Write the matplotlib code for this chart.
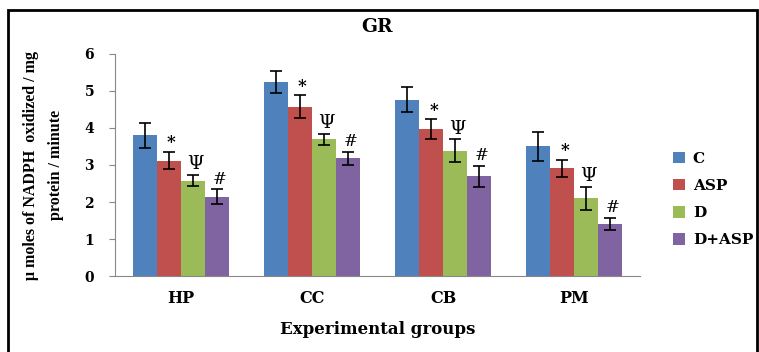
import matplotlib.pyplot as plt
import numpy as np
from matplotlib.patches import Rectangle

groups = ["HP", "CC", "CB", "PM"]
series = ["C", "ASP", "D", "D+ASP"]
values = {
    "C": [3.80, 5.25, 4.76, 3.50],
    "ASP": [3.12, 4.58, 3.96, 2.91],
    "D": [2.58, 3.69, 3.39, 2.10],
    "D+ASP": [2.14, 3.18, 2.69, 1.40],
}
errors = {
    "C": [0.33, 0.30, 0.34, 0.38],
    "ASP": [0.23, 0.30, 0.27, 0.23],
    "D": [0.16, 0.16, 0.30, 0.31],
    "D+ASP": [0.20, 0.17, 0.29, 0.16],
}
marks = {"C": "", "ASP": "*", "D": "Ψ", "D+ASP": "#"}
colors = ["#4F81BD", "#C0504D", "#9BBB59", "#8064A2"]

# the reference text is wide, a broad serif matches it better than Times
wide = ['DejaVu Serif']
plt.rcParams['font.family'] = wide

fig = plt.figure(figsize=(7.59, 3.52), dpi=100)
ax = fig.add_axes([0.1515, 0.2159, 0.6915, 0.6307])

x = np.arange(len(groups))
w = 0.183
# mark style: fontsize, weight, gap above error bar (data units)
mstyle = {"ASP": (12, "bold", 0.02), "D": (13.5, "normal", 0.05), "D+ASP": (12, "normal", 0.05)}
for i, s in enumerate(series):
    pos = x + (i - 1.5) * w
    ax.bar(pos, values[s], width=w, color=colors[i], label=s, zorder=2)
    ax.errorbar(pos, values[s], yerr=errors[s], fmt="none", ecolor="black",
                elinewidth=1.2, capsize=4, capthick=1.2, zorder=3)
    if marks[s]:
        fs, fw, gap = mstyle[s]
        for p, v, e in zip(pos, values[s], errors[s]):
            ax.text(p + 0.02, v + e + gap, marks[s], ha="center", va="bottom",
                    fontsize=fs, fontweight=fw, color="black")

ax.set_xlim(-0.5, 3.5)
ax.set_ylim(0, 6)
ax.set_yticks(range(0, 7))
ax.set_xticks(x)
ax.set_xticklabels(groups)
for lbl in ax.get_xticklabels() + ax.get_yticklabels():
    lbl.set_fontweight("bold")
ax.tick_params(axis="x", length=0, pad=10, labelsize=11.5)
ax.tick_params(axis="y", length=4, color="#888888", labelsize=10, pad=11)
for sp in ["top", "right"]:
    ax.spines[sp].set_visible(False)
for sp in ["left", "bottom"]:
    ax.spines[sp].set_color("#888888")

ax.set_title("GR", fontsize=13.5, fontweight="bold", pad=16)
ax.set_xlabel("Experimental groups", fontsize=12, fontweight="bold", labelpad=10)
ax.set_ylabel("μ moles of NADPH  oxidized / mg\nprotein / minute", fontsize=11.5,
              family=['Liberation Serif', 'DejaVu Serif'],
              fontweight="bold", labelpad=15, linespacing=1.7)

leg = ax.legend(loc="center left", bbox_to_anchor=(1.037, 0.345), frameon=False,
                fontsize=11, handlelength=0.8, handleheight=0.8,
                labelspacing=0.85, handletextpad=0.5)
for t in leg.get_texts():
    t.set_fontweight("bold")

fig.patches.append(Rectangle((8 / 759, -0.1), 749 / 759, 1.1 - 10 / 352,
                             transform=fig.transFigure, fill=False,
                             edgecolor="black", linewidth=2))

fig.savefig("out.png", dpi=100)
